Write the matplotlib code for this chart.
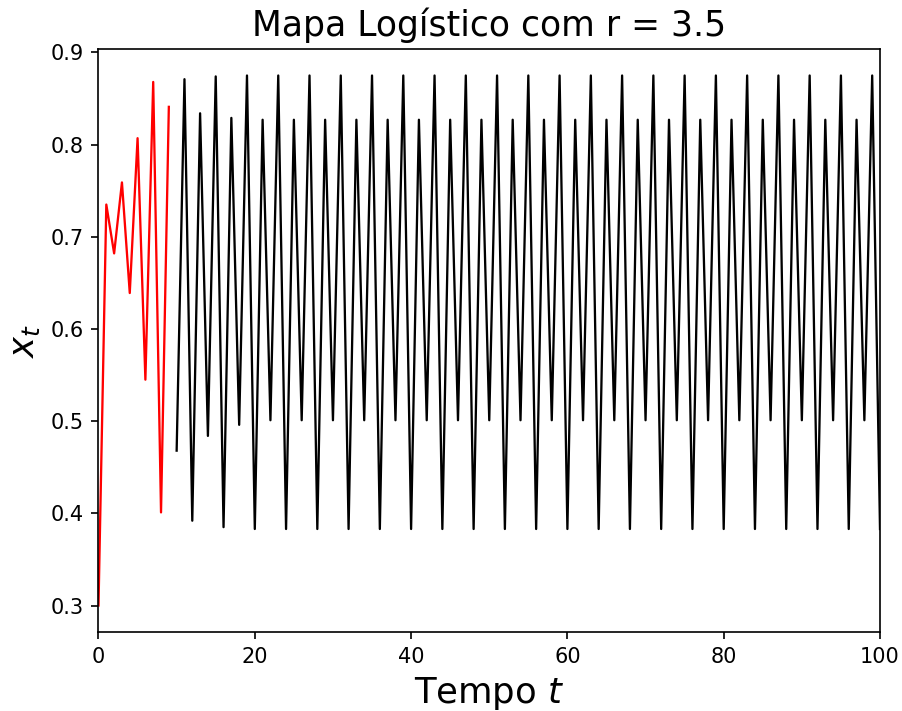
import matplotlib.pyplot as plt

# Mapa logístico x_{t+1} = r x_t (1 - x_t), r = 3.5, x_0 = 0.3
# transiente (t = 0..9), desenhado em vermelho
t_trans = list(range(0, 10))
x_trans = [0.300, 0.735, 0.682, 0.759, 0.639, 0.807, 0.545, 0.868, 0.401, 0.841]

# regime (t = 10..100), desenhado em preto
t_reg = list(range(10, 101))
x_reg = [0.468, 0.871, 0.392, 0.834, 0.484, 0.874, 0.385, 0.829, 0.496, 0.875,
         0.383, 0.827, 0.501, 0.875, 0.383, 0.827, 0.501, 0.875, 0.383, 0.827,
         0.501, 0.875, 0.383, 0.827, 0.501, 0.875, 0.383, 0.827, 0.501, 0.875,
         0.383, 0.827, 0.501, 0.875, 0.383, 0.827, 0.501, 0.875, 0.383, 0.827,
         0.501, 0.875, 0.383, 0.827, 0.501, 0.875, 0.383, 0.827, 0.501, 0.875,
         0.383, 0.827, 0.501, 0.875, 0.383, 0.827, 0.501, 0.875, 0.383, 0.827,
         0.501, 0.875, 0.383, 0.827, 0.501, 0.875, 0.383, 0.827, 0.501, 0.875,
         0.383, 0.827, 0.501, 0.875, 0.383, 0.827, 0.501, 0.875, 0.383, 0.827,
         0.501, 0.875, 0.383, 0.827, 0.501, 0.875, 0.383, 0.827, 0.501, 0.875,
         0.383]

r = 3.5

fig = plt.figure(figsize=(903 / 150, 711 / 150), dpi=150)
ax = fig.add_axes([98.5 / 903, 79 / 711, 781.5 / 903, 583 / 711])

ax.plot(t_trans, x_trans, color='red', lw=1.1)
ax.plot(t_reg, x_reg, color='black', lw=1.1)

ax.set_xlim(0, 100)
ax.set_title('Mapa Logístico com r = {}'.format(r), fontsize=16.6)
ax.set_xlabel('Tempo $t$', fontsize=17)
ax.set_ylabel('$x_t$', fontsize=17)

fig.savefig('out.png', dpi=150)
